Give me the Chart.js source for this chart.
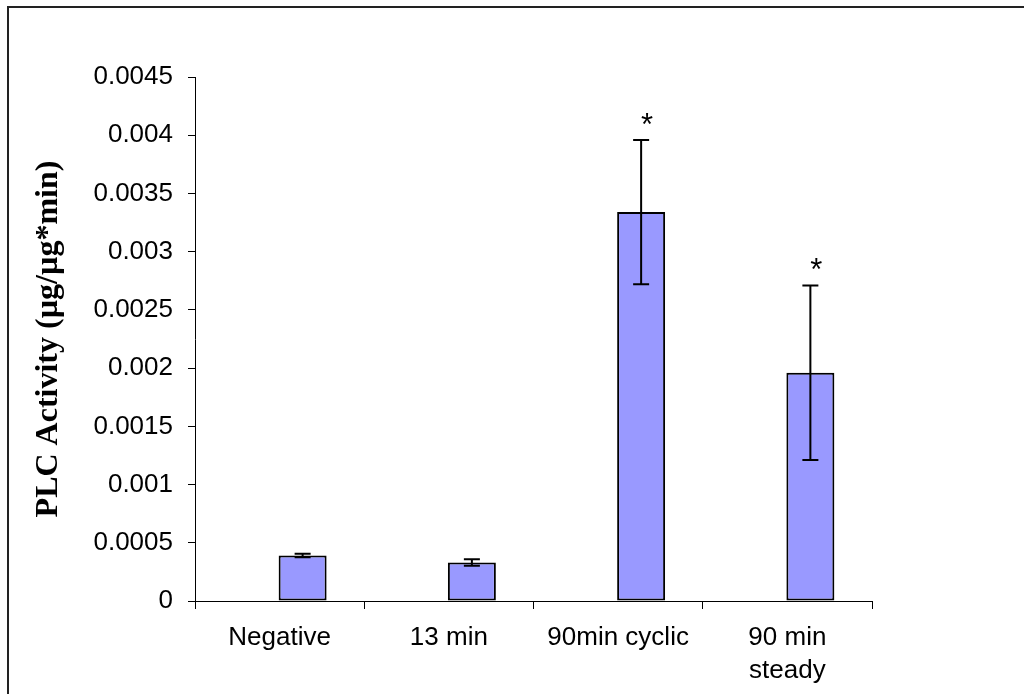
<!DOCTYPE html>
<html lang="en">

<head>
    <meta charset="UTF-8" />
    <title>PLC Activity</title>
    <script src="https://cdn.jsdelivr.net/npm/chart.js"></script>
    <style>
        html, body { margin: 0; padding: 0; background: #fff; overflow: hidden; }
        #frame {
            position: absolute; left: 7px; top: 6px;
            width: 1200px; height: 900px;
            border: 2px solid #222;
        }
        #wrap { position: absolute; left: 0; top: 0; width: 1024px; height: 694px; }
    </style>
</head>

<body>
    <div id="frame"></div>
    <div id="wrap"><canvas id="plcChart"></canvas></div>

    <script>
        // groups and measured activity (mean +/- error)
        const groups = ['Negative', '13 min', '90min cyclic', ['90 min', 'steady']];
        const activity = [0.00039, 0.00033, 0.00334, 0.00196];
        const errors = [0.000015, 0.000028, 0.00062, 0.00075];
        const significance = ['', '', '*', '*'];

        // y axis range
        const yMin = 0;
        const yMax = 0.0045;
        const yStep = 0.0005;

        const sans = '"Liberation Sans", Arial, sans-serif';
        const serif = '"Liberation Serif", "Times New Roman", serif';

        // error bars and asterisks on top of the bars
        const errorBars = {
            id: 'errorBars',
            afterDatasetsDraw(chart) {
                const ctx = chart.ctx;
                const y = chart.scales.y;
                const meta = chart.getDatasetMeta(1);
                ctx.save();
                ctx.strokeStyle = '#000';
                ctx.lineWidth = 2;
                meta.data.forEach((bar, i) => {
                    const top = y.getPixelForValue(activity[i] + errors[i]);
                    const bot = y.getPixelForValue(activity[i] - errors[i]);
                    ctx.beginPath();
                    ctx.moveTo(bar.x, top);
                    ctx.lineTo(bar.x, bot);
                    ctx.moveTo(bar.x - 8, top);
                    ctx.lineTo(bar.x + 8, top);
                    ctx.moveTo(bar.x - 8, bot);
                    ctx.lineTo(bar.x + 8, bot);
                    ctx.stroke();

                    if (significance[i]) {
                        ctx.fillStyle = '#000';
                        ctx.font = '31px ' + sans;
                        ctx.textAlign = 'center';
                        ctx.textBaseline = 'alphabetic';
                        ctx.fillText(significance[i], bar.x + 6, top - 5);
                    }
                });
                ctx.restore();
            }
        };

        new Chart(document.getElementById('plcChart'), {
            type: 'bar',
            data: {
                labels: groups,
                datasets: [
                    // empty first series keeps the bars right of the category centre
                    { label: '', data: groups.map(() => null) },
                    {
                        label: 'PLC Activity',
                        data: activity,
                        backgroundColor: '#9999ff',
                        borderColor: '#000',
                        borderWidth: 2,
                        borderSkipped: false
                    }
                ]
            },
            options: {
                responsive: true,
                maintainAspectRatio: false,
                animation: false,
                categoryPercentage: 0.5436,
                barPercentage: 1.043,
                layout: { padding: { top: 77, right: 152, left: 0, bottom: 0 } },
                plugins: { legend: { display: false }, tooltip: { enabled: false } },
                scales: {
                    x: {
                        afterFit: s => { s.height = 93; },
                        grid: { offset: true, drawOnChartArea: false, drawTicks: true, tickLength: 8, color: '#000' },
                        border: { display: true, color: '#000', width: 1 },
                        ticks: { color: '#000', padding: 13, maxRotation: 0, autoSkip: false, font: { family: sans, size: 26, lineHeight: 1.25 } }
                    },
                    y: {
                        min: yMin,
                        max: yMax,
                        afterFit: s => { s.width = 195; },
                        grid: { drawOnChartArea: false, drawTicks: true, tickLength: 7, color: '#000' },
                        border: { display: true, color: '#000', width: 1 },
                        ticks: {
                            stepSize: yStep,
                            color: '#000',
                            padding: 15,
                            font: { family: sans, size: 26 },
                            callback: v => String(+v.toFixed(4))
                        },
                        title: {
                            display: true,
                            text: 'PLC Activity (µg/µg*min)',
                            color: '#000',
                            padding: { top: 30, bottom: 0 },
                            font: { family: serif, size: 32, weight: 'bold', lineHeight: 1.2 }
                        }
                    }
                }
            },
            plugins: [errorBars]
        });
    </script>
</body>

</html>
